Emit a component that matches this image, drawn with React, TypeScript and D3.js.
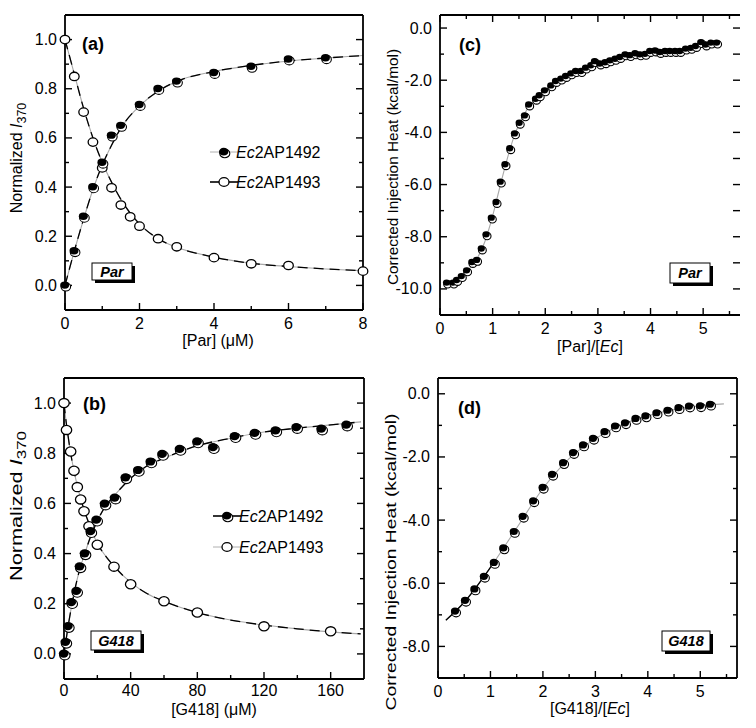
import React from "react";
import * as d3 from "d3";

const FONT = "Arial, 'Liberation Sans', Helvetica, sans-serif";

// ---------- Panel (a): Par titration (fluorescence) ----------
const parConc1492 = [0, 0.25, 0.5, 0.75, 1.0, 1.25, 1.5, 2.0, 2.5, 3.0, 4.0, 5.0, 6.0, 7.0];
const parI1492 = [0.0, 0.14, 0.28, 0.4, 0.5, 0.61, 0.65, 0.735, 0.8, 0.83, 0.865, 0.89, 0.92, 0.925];
const parConc1493 = [0, 0.25, 0.5, 0.75, 1.0, 1.25, 1.5, 1.75, 2.0, 2.5, 3.0, 4.0, 5.0, 6.0, 8.0];
const parI1493 = [1.0, 0.85, 0.705, 0.583, 0.478, 0.397, 0.327, 0.279, 0.241, 0.19, 0.157, 0.113, 0.088, 0.081, 0.058];
const parFitConc = [0, 0.25, 0.5, 0.75, 1, 1.25, 1.5, 2, 2.5, 3, 4, 5, 6, 7, 8];
const parFit1492 = [0, 0.14, 0.27, 0.39, 0.49, 0.57, 0.64, 0.73, 0.79, 0.83, 0.87, 0.895, 0.913, 0.925, 0.935];
const parFit1493 = [1.0, 0.86, 0.72, 0.6, 0.5, 0.42, 0.35, 0.25, 0.19, 0.155, 0.115, 0.09, 0.077, 0.067, 0.06];

// ---------- Panel (b): G418 titration (fluorescence) ----------
const g418Conc1492 = [0, 1, 2.5, 4.5, 7.5, 9.5, 12.5, 16, 19.5, 24.5, 30.5, 37, 44.5, 52, 59, 69.5, 80, 89.5, 102.5, 114.5, 127, 139.5, 154.5, 169.5];
const g418I1492 = [0.0, 0.047, 0.11, 0.205, 0.25, 0.348, 0.4, 0.488, 0.534, 0.598, 0.622, 0.703, 0.732, 0.766, 0.796, 0.816, 0.846, 0.823, 0.867, 0.88, 0.89, 0.903, 0.897, 0.913];
const g418Conc1493 = [0, 1.5, 4, 6, 8, 10, 12, 15, 20, 30, 40, 60, 80, 120, 160];
const g418I1493 = [1.0, 0.893, 0.807, 0.73, 0.665, 0.616, 0.569, 0.509, 0.435, 0.348, 0.278, 0.21, 0.165, 0.11, 0.09];
const g418FitConc = [0, 1, 2, 4, 6, 8, 10, 12, 15, 20, 25, 30, 40, 50, 60, 80, 100, 120, 140, 160, 178];
const g418Fit1492 = [0, 0.045, 0.09, 0.17, 0.24, 0.3, 0.35, 0.39, 0.45, 0.53, 0.59, 0.63, 0.7, 0.75, 0.78, 0.83, 0.86, 0.885, 0.9, 0.913, 0.925];
const g418Fit1493 = [1.0, 0.94, 0.89, 0.8, 0.73, 0.67, 0.62, 0.575, 0.52, 0.44, 0.39, 0.35, 0.285, 0.24, 0.21, 0.165, 0.135, 0.115, 0.1, 0.088, 0.08];

// ---------- Panel (c): Par ITC ----------
const itcParRatio = [0.13, 0.25, 0.32, 0.41, 0.51, 0.61, 0.7, 0.79, 0.88, 0.98, 1.07, 1.15, 1.24, 1.33, 1.42, 1.51, 1.61, 1.69, 1.82, 1.89, 1.99, 2.11, 2.2, 2.3, 2.39, 2.49, 2.58, 2.68, 2.77, 2.87, 2.94, 3.04, 3.14, 3.23, 3.33, 3.42, 3.52, 3.61, 3.71, 3.8, 3.9, 3.99, 4.09, 4.18, 4.28, 4.37, 4.47, 4.56, 4.67, 4.77, 4.86, 4.96, 5.05, 5.15, 5.26];
const itcParHeat = [-9.77, -9.77, -9.67, -9.52, -9.3, -8.98, -8.9, -8.46, -7.92, -7.28, -6.68, -5.9, -5.23, -4.62, -4.05, -3.64, -3.36, -2.94, -2.72, -2.59, -2.4, -2.21, -2.04, -1.95, -1.85, -1.75, -1.66, -1.66, -1.53, -1.44, -1.28, -1.37, -1.32, -1.25, -1.19, -1.12, -1.02, -1.05, -0.98, -1.02, -1.0, -0.89, -0.87, -0.93, -0.89, -0.89, -0.89, -0.89, -0.8, -0.77, -0.7, -0.55, -0.64, -0.57, -0.57];
const itcParFitRatio = [0.13, 0.3, 0.5, 0.7, 0.85, 1.0, 1.1, 1.2, 1.3, 1.4, 1.5, 1.6, 1.7, 1.85, 2.0, 2.25, 2.5, 2.75, 3.0, 3.5, 4.0, 4.5, 5.0, 5.3];
const itcParFitHeat = [-9.85, -9.7, -9.35, -8.85, -8.2, -7.2, -6.4, -5.6, -4.85, -4.2, -3.7, -3.3, -3.0, -2.7, -2.4, -2.05, -1.78, -1.58, -1.42, -1.15, -0.98, -0.85, -0.72, -0.65];

// ---------- Panel (d): G418 ITC ----------
const itcG418Ratio = [0.33, 0.52, 0.7, 0.88, 1.07, 1.25, 1.45, 1.62, 1.82, 2.0, 2.18, 2.39, 2.58, 2.77, 2.96, 3.18, 3.38, 3.57, 3.77, 3.96, 4.17, 4.38, 4.59, 4.79, 5.0, 5.19];
const itcG418Heat = [-6.89, -6.55, -6.19, -5.79, -5.35, -4.89, -4.37, -3.89, -3.4, -2.97, -2.56, -2.19, -1.87, -1.63, -1.42, -1.21, -1.03, -0.93, -0.79, -0.71, -0.61, -0.53, -0.45, -0.4, -0.39, -0.34];
const itcG418FitRatio = [0.15, 0.5, 1.0, 1.5, 2.0, 2.5, 3.0, 3.5, 4.0, 4.5, 5.0, 5.45];
const itcG418FitHeat = [-7.17, -6.6, -5.5, -4.25, -3.0, -2.05, -1.42, -0.98, -0.7, -0.5, -0.38, -0.32];

// tick values
const parTicks = [0, 2, 4, 6, 8];
const parMinor = [1, 3, 5, 7];
const g418Ticks = [0, 40, 80, 120, 160];
const g418Minor = [20, 60, 100, 140];
const normTicks = [0, 0.2, 0.4, 0.6, 0.8, 1.0];
const normMinor = [0.1, 0.3, 0.5, 0.7, 0.9];
const ratioTicks = [0, 1, 2, 3, 4, 5];
const ratioMinor = [0.5, 1.5, 2.5, 3.5, 4.5, 5.5];
const heatParTicks = [0, -2, -4, -6, -8, -10];
const heatParMinor = [-1, -3, -5, -7, -9];
const heatG418Ticks = [0, -2, -4, -6, -8];
const heatG418Minor = [-1, -3, -5, -7];

type Frame = { left: number; right: number; top: number; bottom: number };
type Sc = d3.ScaleLinear<number, number>;

const TICK_FS = 16;
const TITLE_FS = 16;

function Axes(props: {
  f: Frame; xs: Sc; ys: Sc;
  xMajor: number[]; xMinor: number[]; yMajor: number[]; yMinor: number[];
  xFmt: (v: number) => string; yFmt: (v: number) => string;
  rightLine?: boolean; topTicks?: boolean; rightMinor?: boolean; xLabelDy?: number;
}) {
  const { f, xs, ys, xMajor, xMinor, yMajor, yMinor, xFmt, yFmt } = props;
  const rightLine = props.rightLine !== false;
  const xdy = props.xLabelDy ?? 19;
  const MJ = 7, MN = 4;
  const sw = 1.4;
  const els: React.ReactNode[] = [];
  xMajor.forEach((v, i) => {
    els.push(<line key={"xbM" + i} x1={xs(v)} x2={xs(v)} y1={f.bottom} y2={f.bottom - MJ} stroke="#000" strokeWidth={sw} />);
    els.push(<text key={"xl" + i} x={xs(v)} y={f.bottom + xdy} textAnchor="middle" fontSize={TICK_FS} fontFamily={FONT}>{xFmt(v)}</text>);
    if (props.topTicks) els.push(<line key={"xtM" + i} x1={xs(v)} x2={xs(v)} y1={f.top} y2={f.top + MJ} stroke="#000" strokeWidth={sw} />);
  });
  xMinor.forEach((v, i) => {
    els.push(<line key={"xbm" + i} x1={xs(v)} x2={xs(v)} y1={f.bottom} y2={f.bottom - MN} stroke="#000" strokeWidth={sw} />);
    if (props.topTicks) els.push(<line key={"xtm" + i} x1={xs(v)} x2={xs(v)} y1={f.top} y2={f.top + MN} stroke="#000" strokeWidth={sw} />);
  });
  yMajor.forEach((v, i) => {
    els.push(<line key={"ylM" + i} x1={f.left} x2={f.left + MJ} y1={ys(v)} y2={ys(v)} stroke="#000" strokeWidth={sw} />);
    els.push(<line key={"yrM" + i} x1={f.right} x2={f.right - MJ} y1={ys(v)} y2={ys(v)} stroke="#000" strokeWidth={sw} />);
    els.push(<text key={"yl" + i} x={f.left - 8} y={ys(v) + 5.5} textAnchor="end" fontSize={TICK_FS} fontFamily={FONT}>{yFmt(v)}</text>);
  });
  yMinor.forEach((v, i) => {
    els.push(<line key={"ylm" + i} x1={f.left} x2={f.left + MN} y1={ys(v)} y2={ys(v)} stroke="#000" strokeWidth={sw} />);
    els.push(<line key={"yrm" + i} x1={f.right} x2={f.right - (props.rightMinor ? MJ : MN)} y1={ys(v)} y2={ys(v)} stroke="#000" strokeWidth={sw} />);
  });
  const fw = 1.8;
  els.push(<line key="fl" x1={f.left} x2={f.left} y1={f.top} y2={f.bottom} stroke="#000" strokeWidth={fw} />);
  els.push(<line key="fb" x1={f.left} x2={f.right} y1={f.bottom} y2={f.bottom} stroke="#000" strokeWidth={fw} />);
  els.push(<line key="ft" x1={f.left} x2={f.right} y1={f.top} y2={f.top} stroke="#000" strokeWidth={fw} />);
  if (rightLine) els.push(<line key="fr" x1={f.right} x2={f.right} y1={f.top} y2={f.bottom} stroke="#000" strokeWidth={fw} />);
  return <g>{els}</g>;
}

function FilledMarker({ x, y, rx, ry }: { x: number; y: number; rx: number; ry: number }) {
  return (
    <g>
      <ellipse cx={x + 0.8} cy={y + 1.4} rx={rx} ry={ry} fill="#fff" stroke="#000" strokeWidth={1.1} />
      <ellipse cx={x - 0.3} cy={y - 0.3} rx={rx - 0.3} ry={ry - 0.5} fill="#000" />
    </g>
  );
}
function OpenMarker({ x, y, rx, ry }: { x: number; y: number; rx: number; ry: number }) {
  return <ellipse cx={x} cy={y} rx={rx} ry={ry} fill="#fff" stroke="#000" strokeWidth={1.3} />;
}

function ShadowBox({ x, y, w, h, label }: { x: number; y: number; w: number; h: number; label: string }) {
  return (
    <g>
      <rect x={x + 3} y={y + 3} width={w} height={h} fill="#000" />
      <rect x={x} y={y} width={w} height={h} fill="#fff" stroke="#000" strokeWidth={1} />
      <text x={x + w / 2} y={y + h / 2 + 5} textAnchor="middle" fontSize={14.5} fontWeight="bold" fontStyle="italic" fontFamily={FONT}>{label}</text>
    </g>
  );
}

function FitLine({ xsv, ysv, xs, ys, dash }: { xsv: number[]; ysv: number[]; xs: Sc; ys: Sc; dash?: string }) {
  const pts: [number, number][] = xsv.map((v, i) => [xs(v), ys(ysv[i])]);
  const line = d3.line().curve(d3.curveMonotoneX);
  const d = line(pts) || "";
  return (
    <g>
      <path d={d} fill="none" stroke="#a8a8a8" strokeWidth={1.1} />
      {dash ? <path d={d} fill="none" stroke="#000" strokeWidth={1.3} strokeDasharray={dash} /> : null}
    </g>
  );
}

function LegendEntry({ x, y, filled, lineColor, name }: { x: number; y: number; filled: boolean; lineColor: string; name: string }) {
  return (
    <g>
      <line x1={x - 14} x2={x + 14} y1={y} y2={y} stroke={lineColor} strokeWidth={lineColor === "#000" ? 1.6 : 1} />
      {filled ? <FilledMarker x={x} y={y} rx={5} ry={4.4} /> : <OpenMarker x={x} y={y} rx={5} ry={4.4} />}
      <text x={x + 12} y={y + 6} fontSize={16} fontFamily={FONT}>
        <tspan fontStyle="italic">Ec</tspan>
        <tspan>{name}</tspan>
      </text>
    </g>
  );
}

const fmt1 = (v: number) => (Math.abs(v) < 1e-9 ? "0.0" : v.toFixed(1));
const fmt0 = (v: number) => String(v);

export default function App() {
  const fa: Frame = { left: 65, right: 363, top: 15, bottom: 310 };
  const fb: Frame = { left: 64, right: 364, top: 378, bottom: 679 };
  const fc: Frame = { left: 440, right: 740, top: 15, bottom: 315 };
  const fd: Frame = { left: 438, right: 737, top: 378, bottom: 678 };

  const xa = d3.scaleLinear().domain([0, 8]).range([fa.left, fa.right]);
  const ya = d3.scaleLinear().domain([-0.1, 1.1]).range([fa.bottom, fa.top]);
  const xb = d3.scaleLinear().domain([0, 180]).range([fb.left, fb.right]);
  const yb = d3.scaleLinear().domain([-0.1, 1.1]).range([fb.bottom, fb.top]);
  const xc = d3.scaleLinear().domain([0, 5.7]).range([fc.left, fc.right]);
  const yc = d3.scaleLinear().domain([-11, 0.5]).range([fc.bottom, fc.top]);
  const xd = d3.scaleLinear().domain([0, 5.7]).range([fd.left, fd.right]);
  const yd = d3.scaleLinear().domain([-9, 0.5]).range([fd.bottom, fd.top]);

  return (
    <svg width={756} height={728} style={{ position: "absolute", left: 0, top: 0, background: "#fff" }} fontFamily={FONT}>
      <rect x={0} y={0} width={756} height={728} fill="#fff" />

      {/* ---------------- Panel (a) ---------------- */}
      <FitLine xsv={parFitConc} ysv={parFit1492} xs={xa} ys={ya} dash="10,6" />
      <FitLine xsv={parFitConc} ysv={parFit1493} xs={xa} ys={ya} dash="10,6" />
      <Axes f={fa} xs={xa} ys={ya} xMajor={parTicks} xMinor={parMinor} yMajor={normTicks} yMinor={normMinor} xFmt={fmt0} yFmt={fmt1} />
      {parConc1493.map((v, i) => <OpenMarker key={"ao" + i} x={xa(v)} y={ya(parI1493[i])} rx={4.8} ry={4.2} />)}
      {parConc1492.map((v, i) => <FilledMarker key={"af" + i} x={xa(v)} y={ya(parI1492[i])} rx={4.8} ry={4.2} />)}
      <LegendEntry x={224} y={152} filled lineColor="#b0b0b0" name="2AP1492" />
      <LegendEntry x={224} y={182} filled={false} lineColor="#000" name="2AP1493" />
      <ShadowBox x={92} y={263} w={40} h={17} label="Par" />
      <text x={82} y={50} fontSize={18} fontWeight="bold" fontFamily={FONT}>(a)</text>
      <text x={fa.left + (fa.right - fa.left) / 2 + 4} y={fa.bottom + 36} textAnchor="middle" fontSize={TITLE_FS} fontFamily={FONT}>[Par] (μM)</text>
      <text transform={`translate(22, 158) rotate(-90)`} textAnchor="middle" fontSize={16} fontFamily={FONT}>
        Normalized <tspan fontStyle="italic">I</tspan><tspan fontSize={12.5} dy={4}>370</tspan>
      </text>

      {/* ---------------- Panel (b) ---------------- */}
      <FitLine xsv={g418FitConc} ysv={g418Fit1492} xs={xb} ys={yb} dash="10,6" />
      <FitLine xsv={g418FitConc} ysv={g418Fit1493} xs={xb} ys={yb} dash="10,6" />
      <Axes f={fb} xs={xb} ys={yb} xMajor={g418Ticks} xMinor={g418Minor} yMajor={normTicks} yMinor={normMinor} xFmt={fmt0} yFmt={fmt1} xLabelDy={17} />
      {g418Conc1493.map((v, i) => <OpenMarker key={"bo" + i} x={xb(v)} y={yb(g418I1493[i])} rx={5.2} ry={4.6} />)}
      {g418Conc1492.map((v, i) => <FilledMarker key={"bf" + i} x={xb(v)} y={yb(g418I1492[i])} rx={5.2} ry={4.6} />)}
      <LegendEntry x={227} y={516} filled lineColor="#000" name="2AP1492" />
      <LegendEntry x={227} y={547} filled={false} lineColor="#b0b0b0" name="2AP1493" />
      <ShadowBox x={91} y={631} w={50} h={19} label="G418" />
      <text x={83} y={410} fontSize={18} fontWeight="bold" fontFamily={FONT}>(b)</text>
      <text x={fb.left + (fb.right - fb.left) / 2} y={fb.bottom + 36} textAnchor="middle" fontSize={TITLE_FS} fontFamily={FONT}>[G418] (μM)</text>
      <text transform={`translate(22, 506) rotate(-90)`} textAnchor="middle" fontSize={16} fontFamily={FONT} textLength={150} lengthAdjust="spacingAndGlyphs">
        Normalized <tspan fontStyle="italic">I</tspan><tspan fontSize={12.5} dy={4}>370</tspan>
      </text>

      {/* ---------------- Panel (c) ---------------- */}
      <FitLine xsv={itcParFitRatio} ysv={itcParFitHeat} xs={xc} ys={yc} />
      <Axes f={fc} xs={xc} ys={yc} xMajor={ratioTicks} xMinor={ratioMinor} yMajor={heatParTicks} yMinor={heatParMinor} xFmt={fmt0} yFmt={fmt1} rightLine={false} topTicks rightMinor />
      {itcParRatio.map((v, i) => <FilledMarker key={"cf" + i} x={xc(v)} y={yc(itcParHeat[i])} rx={3.9} ry={3.7} />)}
      <ShadowBox x={670} y={263} w={40} h={20} label="Par" />
      <text x={459} y={51} fontSize={18} fontWeight="bold" fontFamily={FONT}>(c)</text>
      <text x={590} y={fc.bottom + 37} textAnchor="middle" fontSize={TITLE_FS} fontFamily={FONT}>
        [Par]/[<tspan fontStyle="italic">Ec</tspan>]
      </text>
      <text transform={`translate(398, 167) rotate(-90)`} textAnchor="middle" fontSize={15} fontFamily={FONT} textLength={236} lengthAdjust="spacingAndGlyphs">
        Corrected Injection Heat (kcal/mol)
      </text>

      {/* ---------------- Panel (d) ---------------- */}
      <FitLine xsv={itcG418FitRatio} ysv={itcG418FitHeat} xs={xd} ys={yd} dash="75,1000" />
      <Axes f={fd} xs={xd} ys={yd} xMajor={ratioTicks} xMinor={ratioMinor} yMajor={heatG418Ticks} yMinor={heatG418Minor} xFmt={fmt0} yFmt={fmt1} />
      {itcG418Ratio.map((v, i) => <FilledMarker key={"df" + i} x={xd(v)} y={yd(itcG418Heat[i])} rx={4.4} ry={4.1} />)}
      <ShadowBox x={662} y={631} w={48} h={20} label="G418" />
      <text x={458} y={414} fontSize={18} fontWeight="bold" fontFamily={FONT}>(d)</text>
      <text x={590} y={fd.bottom + 36} textAnchor="middle" fontSize={TITLE_FS} fontFamily={FONT}>
        [G418]/[<tspan fontStyle="italic">Ec</tspan>]
      </text>
      <text transform={`translate(396, 562) rotate(-90)`} textAnchor="middle" fontSize={15} fontFamily={FONT} textLength={297} lengthAdjust="spacingAndGlyphs">
        Corrected Injection Heat (kcal/mol)
      </text>
    </svg>
  );
}
